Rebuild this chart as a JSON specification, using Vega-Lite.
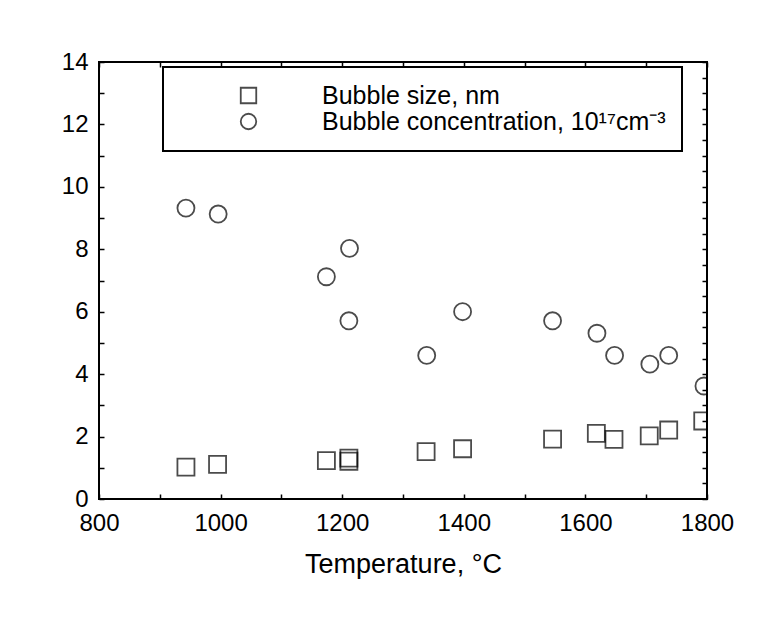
{
  "$schema": "https://vega.github.io/schema/vega-lite/v6.json",
  "width": 608,
  "height": 437,
  "autosize": "none",
  "padding": {"left": 99, "top": 62, "right": 75, "bottom": 142},
  "background": "white",
  "config": {
    "font": "Liberation Sans",
    "view": {"stroke": "black", "strokeWidth": 2},
    "axis": {
      "domain": false,
      "grid": false,
      "tickColor": "black",
      "tickSize": -5,
      "tickWidth": 1.5,
      "labelColor": "black",
      "labelFontSize": 24,
      "titleColor": "black",
      "titleFontWeight": "normal",
      "titleFontSize": 27
    },
    "legend": {
      "strokeColor": "black",
      "strokeWidth": 2,
      "fillColor": "white",
      "padding": 16,
      "symbolOffset": 57,
      "labelOffset": 61,
      "labelFontSize": 25,
      "labelColor": "black",
      "labelLimit": 700,
      "symbolSize": 240,
      "symbolStrokeWidth": 1.8,
      "symbolStrokeColor": "black",
      "symbolFillColor": "transparent",
      "rowPadding": 0
    }
  },
  "data": {
    "values": [
      {"T": 943, "value": 1.02, "series": "Bubble size, nm"},
      {"T": 995, "value": 1.11, "series": "Bubble size, nm"},
      {"T": 1174, "value": 1.23, "series": "Bubble size, nm"},
      {"T": 1211, "value": 1.31, "series": "Bubble size, nm"},
      {"T": 1211, "value": 1.21, "series": "Bubble size, nm"},
      {"T": 1338, "value": 1.52, "series": "Bubble size, nm"},
      {"T": 1398, "value": 1.61, "series": "Bubble size, nm"},
      {"T": 1546, "value": 1.92, "series": "Bubble size, nm"},
      {"T": 1618, "value": 2.1, "series": "Bubble size, nm"},
      {"T": 1647, "value": 1.91, "series": "Bubble size, nm"},
      {"T": 1705, "value": 2.02, "series": "Bubble size, nm"},
      {"T": 1737, "value": 2.21, "series": "Bubble size, nm"},
      {"T": 1793, "value": 2.5, "series": "Bubble size, nm"},
      {"T": 943, "value": 9.32, "series": "Bubble concentration, 10¹⁷cm⁻³"},
      {"T": 996, "value": 9.13, "series": "Bubble concentration, 10¹⁷cm⁻³"},
      {"T": 1174, "value": 7.12, "series": "Bubble concentration, 10¹⁷cm⁻³"},
      {"T": 1212, "value": 8.03, "series": "Bubble concentration, 10¹⁷cm⁻³"},
      {"T": 1211, "value": 5.71, "series": "Bubble concentration, 10¹⁷cm⁻³"},
      {"T": 1339, "value": 4.6, "series": "Bubble concentration, 10¹⁷cm⁻³"},
      {"T": 1398, "value": 6.0, "series": "Bubble concentration, 10¹⁷cm⁻³"},
      {"T": 1546, "value": 5.71, "series": "Bubble concentration, 10¹⁷cm⁻³"},
      {"T": 1619, "value": 5.31, "series": "Bubble concentration, 10¹⁷cm⁻³"},
      {"T": 1648, "value": 4.6, "series": "Bubble concentration, 10¹⁷cm⁻³"},
      {"T": 1706, "value": 4.32, "series": "Bubble concentration, 10¹⁷cm⁻³"},
      {"T": 1737, "value": 4.6, "series": "Bubble concentration, 10¹⁷cm⁻³"},
      {"T": 1795, "value": 3.62, "series": "Bubble concentration, 10¹⁷cm⁻³"}
    ]
  },
  "layer": [
    {
      "mark": {"type": "point", "filled": false, "color": "black", "strokeWidth": 1.8, "size": 290, "clip": true},
      "encoding": {
        "x": {
          "field": "T", "type": "quantitative",
          "scale": {"domain": [800, 1800], "nice": false, "zero": false},
          "axis": {
            "orient": "bottom",
            "values": [800, 900, 1000, 1100, 1200, 1300, 1400, 1500, 1600, 1700, 1800],
            "format": "d",
            "labelExpr": "datum.value % 200 === 0 ? datum.label : ''",
            "labelPadding": 17,
            "labelFlush": false,
            "labelOverlap": false,
            "title": "Temperature, °C",
            "titlePadding": 16
          }
        },
        "y": {
          "field": "value", "type": "quantitative",
          "scale": {"domain": [0, 14], "nice": false},
          "axis": {
            "orient": "left",
            "values": [0, 0.5, 1, 1.5, 2, 2.5, 3, 3.5, 4, 4.5, 5, 5.5, 6, 6.5, 7, 7.5, 8, 8.5, 9, 9.5, 10, 10.5, 11, 11.5, 12, 12.5, 13, 13.5, 14],
            "format": "d",
            "labelExpr": "datum.value % 2 === 0 ? datum.label : ''",
            "labelPadding": 16,
            "labelFlush": false,
            "labelOverlap": false,
            "title": null
          }
        },
        "shape": {
          "field": "series", "type": "nominal",
          "scale": {"domain": ["Bubble size, nm", "Bubble concentration, 10¹⁷cm⁻³"], "range": ["square", "circle"]},
          "legend": {"title": null, "orient": "none", "legendX": 64, "legendY": 5}
        }
      }
    },
    {
      "mark": {"type": "point", "opacity": 0},
      "encoding": {
        "x": {
          "field": "T", "type": "quantitative",
          "axis": {
            "orient": "top",
            "values": [800, 900, 1000, 1100, 1200, 1300, 1400, 1500, 1600, 1700, 1800],
            "labels": false,
            "title": null
          }
        },
        "y": {
          "field": "value", "type": "quantitative",
          "axis": {
            "orient": "right",
            "values": [0, 0.5, 1, 1.5, 2, 2.5, 3, 3.5, 4, 4.5, 5, 5.5, 6, 6.5, 7, 7.5, 8, 8.5, 9, 9.5, 10, 10.5, 11, 11.5, 12, 12.5, 13, 13.5, 14],
            "labels": false,
            "title": null
          }
        }
      }
    }
  ],
  "resolve": {"axis": {"x": "independent", "y": "independent"}}
}
